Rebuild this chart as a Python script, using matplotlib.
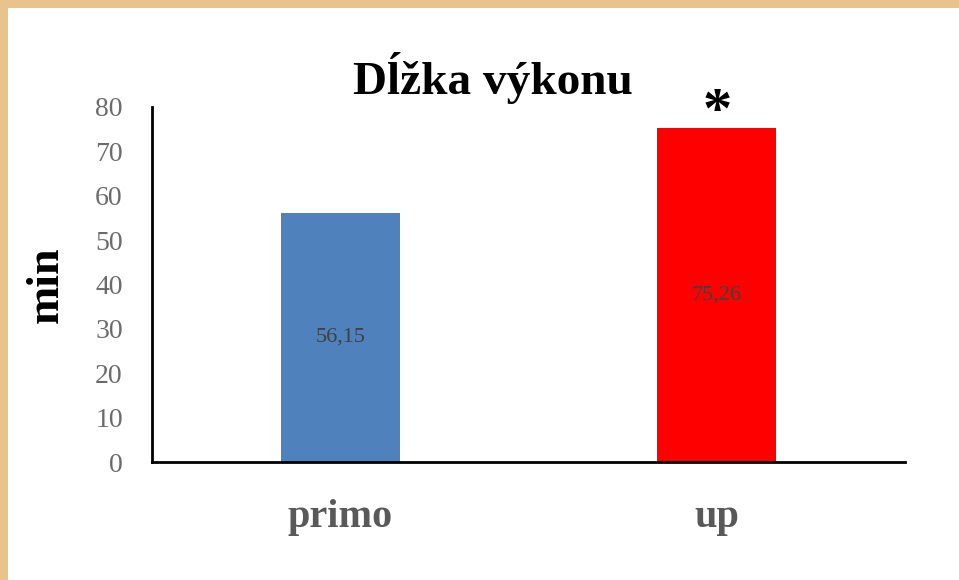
import matplotlib.pyplot as plt
from matplotlib.patches import Rectangle

# data
categories = ['primo', 'up']
values = [56.15, 75.26]
value_labels = ['56,15', '75,26']
bar_colors = ['#4F81BD', '#FF0000']
yticks = [0, 10, 20, 30, 40, 50, 60, 70, 80]

W, H = 959, 580
fig = plt.figure(figsize=(W / 100, H / 100), dpi=100)
fig.patch.set_facecolor('#E8C38C')
# white slide area, tan strip only on top and left
fig.add_artist(Rectangle((8 / W, 0), 1, 1 - 8 / H, transform=fig.transFigure,
                         facecolor='white', edgecolor='none', zorder=0))

ax = fig.add_axes([152 / W, 1 - 462 / H, 753 / W, 355 / H])
ax.set_facecolor('none')

serif = ['Liberation Serif', 'DejaVu Serif']
x = list(range(len(categories)))
bars = ax.bar(x, values, width=0.316, color=bar_colors, zorder=2)

for b, lab in zip(bars, value_labels):
    ax.text(b.get_x() + b.get_width() / 2, b.get_height() / 2, lab,
            ha='center', va='center', fontsize=16, color='#404040', family=serif)

# significance mark above the "up" bar
ax.text(x[1], values[1] + 3.5, '*', ha='center', va='center', fontsize=42,
        fontweight='bold', color='black', family=serif, clip_on=False)

ax.set_xlim(-0.5, 1.5)
ax.set_ylim(0, 80)
ax.set_yticks(yticks)
ax.set_yticklabels([str(t) for t in yticks], family=serif, fontsize=20, color='#6b6b6b')
ax.set_xticks(x)
ax.set_xticklabels(categories, family=serif, fontsize=29, fontweight='bold', color='#595959')
ax.tick_params(axis='y', length=0, pad=21)
ax.tick_params(axis='x', length=0, pad=27)

for s in ['top', 'right']:
    ax.spines[s].set_visible(False)
for s in ['left', 'bottom']:
    ax.spines[s].set_linewidth(2)
    ax.spines[s].set_color('black')

ax.set_ylabel('min', family=serif, fontsize=33, fontweight='bold', color='black', labelpad=20)
fig.text(493 / W, 1 - 78 / H, 'Dĺžka výkonu', ha='center', va='center',
         family=serif, fontsize=34, fontweight='bold', color='black')

fig.savefig('out.png', dpi=100, facecolor=fig.get_facecolor())
